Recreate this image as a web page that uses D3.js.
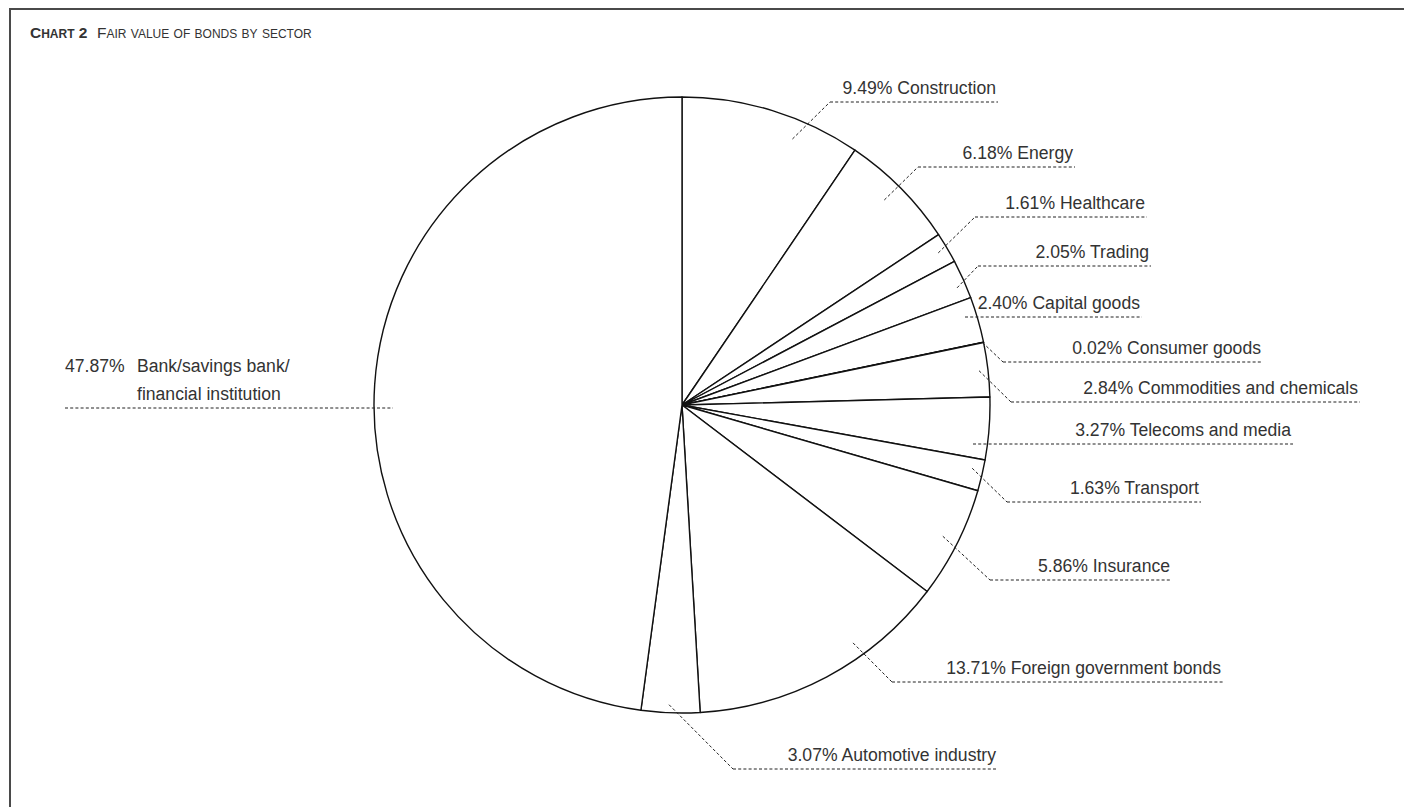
<!DOCTYPE html>
<html>
<head>
<meta charset="utf-8">
<script src="https://cdn.jsdelivr.net/npm/d3@7"></script>
<style>
  html, body { margin: 0; padding: 0; background: #fff; }
  svg { display: block; }
  .lbl { font-family: "Liberation Sans", Arial, sans-serif; font-size: 17.6px; fill: #333; }
  .ttl { font-family: "Liberation Sans", Arial, sans-serif; fill: #333; }
</style>
</head>
<body>
<svg id="chart" width="1404" height="807"></svg>
<script>
// Sector breakdown of the bond portfolio (percent of fair value), clockwise from 12 o'clock
const sectors = [
  "Construction", "Energy", "Healthcare", "Trading", "Capital goods",
  "Consumer goods", "Commodities and chemicals", "Telecoms and media",
  "Transport", "Insurance", "Foreign government bonds", "Automotive industry",
  "Bank/savings bank/ financial institution"
];
const shares = [9.49, 6.18, 1.61, 2.05, 2.40, 0.02, 2.84, 3.27, 1.63, 5.86, 13.71, 3.07, 47.87];
const bankLines = ["Bank/savings bank/", "financial institution"];

// Label placement: underline from x0 to x1 at y; leader runs from a point
// inside the slice (fraction `at` across the slice, radius `r`) to the underline.
const labelLayout = [
  { x0: 830,  x1: 998,  y: 102, at: 0.66, r: 288 },
  { x0: 918,  x1: 1075, y: 167, at: 0.47, r: 288 },
  { x0: 975,  x1: 1147, y: 217, at: 0.50, r: 298 },
  { x0: 978,  x1: 1151, y: 266, at: 0.64, r: 299 },
  { x0: 965,  x1: 1142, y: 317, at: null },
  { x0: 1003, x1: 1263, y: 362, at: 0.50, r: 307 },
  { x0: 1011, x1: 1360, y: 402, at: 0.50, r: 299 },
  { x0: 973,  x1: 1293, y: 444, at: null },
  { x0: 1007, x1: 1201, y: 502, at: 0.34, r: 297 },
  { x0: 990,  x1: 1172, y: 580, at: 0.50, r: 292 },
  { x0: 892,  x1: 1223, y: 682, at: 0.345, r: 293 },
  { x0: 733,  x1: 998,  y: 769, at: 0.53, r: 300 },
  { x0: 65,   x1: 393,  y: 408, at: null, left: true }
];

const svg = d3.select("#chart");
const cx = 682, cy = 405, radius = 308;

// Frame (top and left rules)
svg.append("path")
  .attr("d", "M10,807 L10,9 L1404,9")
  .attr("fill", "none")
  .attr("stroke", "#4a4a4a")
  .attr("stroke-width", 2);

// Title, set in small capitals: full-size initials, reduced-size remaining capitals
const capSize = 15.5, smallSize = 12;
function smallCaps(textSel, str) {
  str.split(/(\s+)/).forEach(word => {
    if (!word.length) return;
    if (/^\s+$/.test(word)) {
      textSel.append("tspan").attr("font-size", capSize).text(word);
      return;
    }
    const first = word[0];
    const rest = word.slice(1);
    const firstIsCap = first === first.toUpperCase();
    textSel.append("tspan").attr("font-size", firstIsCap ? capSize : smallSize).text(first.toUpperCase());
    if (rest) textSel.append("tspan").attr("font-size", smallSize).text(rest.toUpperCase());
  });
}
const title = svg.append("text").attr("class", "ttl").attr("x", 30).attr("y", 38);
const chartNo = title.append("tspan").attr("font-weight", "bold");
smallCaps(chartNo, "Chart 2");
const subTitle = title.append("tspan").attr("x", 97);
smallCaps(subTitle, "Fair value of bonds by sector");

const data = sectors.map((s, i) => ({ sector: s, share: shares[i], layout: labelLayout[i] }));

const pie = d3.pie().sort(null).value(d => d.share).startAngle(0).endAngle(2 * Math.PI);
const arcs = pie(data);
const arc = d3.arc().innerRadius(0).outerRadius(radius);

const g = svg.append("g").attr("transform", `translate(${cx},${cy})`);

g.selectAll("path.slice")
  .data(arcs)
  .join("path")
  .attr("class", "slice")
  .attr("d", arc)
  .attr("fill", "#fff")
  .attr("stroke", "#111")
  .attr("stroke-width", 1.4)
  .attr("stroke-linejoin", "round");

// Labels with dashed leaders
const labels = svg.append("g");
arcs.forEach(a => {
  const L = a.data.layout;
  const dash = "3,2.2";
  // underline
  labels.append("line")
    .attr("x1", L.x0).attr("x2", L.x1)
    .attr("y1", L.y).attr("y2", L.y)
    .attr("stroke", "#222").attr("stroke-width", 1)
    .attr("stroke-dasharray", dash);
  // diagonal leader into the slice
  if (L.at !== null) {
    const ang = a.startAngle + (a.endAngle - a.startAngle) * L.at;
    const px = cx + L.r * Math.sin(ang);
    const py = cy - L.r * Math.cos(ang);
    labels.append("line")
      .attr("x1", px).attr("y1", py)
      .attr("x2", L.x0).attr("y2", L.y)
      .attr("stroke", "#222").attr("stroke-width", 1)
      .attr("stroke-dasharray", dash);
  }
  const pct = a.data.share.toFixed(2) + "%";
  if (L.left) {
    labels.append("text").attr("class", "lbl")
      .attr("x", L.x0).attr("y", L.y - 36).text(pct);
    bankLines.forEach((t, k) => {
      labels.append("text").attr("class", "lbl")
        .attr("x", L.x0 + 72).attr("y", L.y - 36 + k * 28).text(t);
    });
  } else {
    labels.append("text").attr("class", "lbl")
      .attr("x", L.x1 - 2).attr("y", L.y - 8)
      .attr("text-anchor", "end")
      .text(pct + " " + a.data.sector);
  }
});
</script>
</body>
</html>
